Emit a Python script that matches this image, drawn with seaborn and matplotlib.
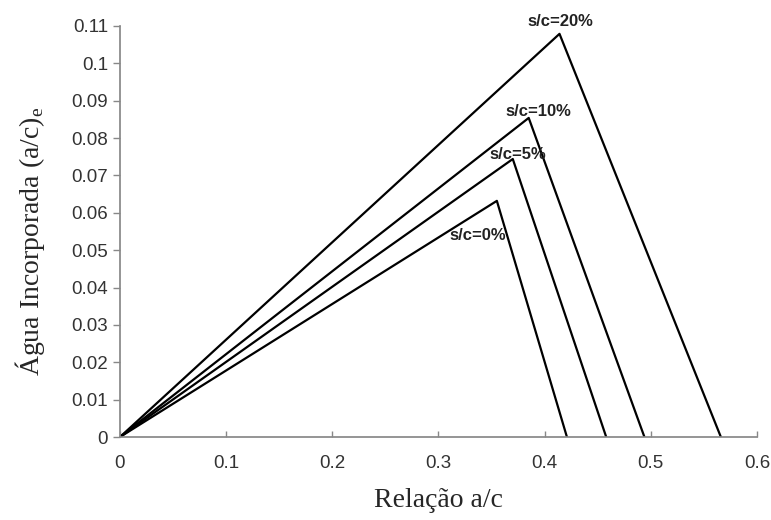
import pandas as pd
import matplotlib
matplotlib.use("Agg")
import matplotlib.pyplot as plt
import seaborn as sns

# dados
series = ["s/c=0%", "s/c=5%", "s/c=10%", "s/c=20%"]
pico_x = [0.355, 0.370, 0.385, 0.414]
pico_y = [0.0632, 0.0744, 0.0854, 0.1079]
fim_x = [0.421, 0.458, 0.494, 0.566]

rows = []
for s, px, py, fx in zip(series, pico_x, pico_y, fim_x):
    rows += [(s, 0.0, 0.0), (s, px, py), (s, fx, 0.0)]
df = pd.DataFrame(rows, columns=["serie", "ac", "agua"])

sns.set_theme(style="ticks")
plt.rcParams['font.family'] = ['Liberation Sans', 'DejaVu Sans']

fig = plt.figure(figsize=(7.71, 5.2), dpi=100)
ax = fig.add_axes([0.1556, 0.1596, 0.8262, 0.7904])

for s in series:
    sns.lineplot(data=df[df["serie"] == s], x="ac", y="agua", sort=False,
                 color="black", linewidth=1.6, estimator=None, ax=ax)

# rotulos das series, deslocados em relacao ao pico
offsets = {"s/c=0%": (-0.018, -0.0094), "s/c=5%": (0.005, 0.0013),
           "s/c=10%": (0.009, 0.0017), "s/c=20%": (0.0013, 0.0034)}
for s, px, py in zip(series, pico_x, pico_y):
    dx, dy = offsets[s]
    ax.text(px + dx, py + dy, s, ha="center", va="center", fontsize=12,
            fontweight="bold", color="#222222")

ax.set_xlim(0, 0.6)
ax.set_ylim(0, 0.11)
ax.set_xticks([0, 0.1, 0.2, 0.3, 0.4, 0.5, 0.6])
ax.set_xticklabels(["0", "0.1", "0.2", "0.3", "0.4", "0.5", "0.6"])
ax.set_yticks([i / 100 for i in range(12)])
ax.set_yticklabels(["0"] + [f"{i/100:g}" for i in range(1, 12)])

ax.tick_params(axis="both", labelsize=13.5, colors="#888888", labelcolor="#333333", width=1)
ax.tick_params(axis="y", direction="out", length=5, pad=3.5)
ax.tick_params(axis="x", direction="in", length=4, pad=13)
for side in ["left", "bottom"]:
    ax.spines[side].set_color("#888888")
sns.despine(ax=ax)

ax.set_xlabel("Relação a/c", family="Liberation Serif", fontsize=20)
ax.xaxis.set_label_coords(0.5, -0.125)
ax.set_ylabel("Água Incorporada (a/c)$_\\mathregular{e}$", family="Liberation Serif",
              fontsize=20)
ax.yaxis.set_label_coords(-0.115, 0.475)

fig.savefig("out.png", dpi=100)
